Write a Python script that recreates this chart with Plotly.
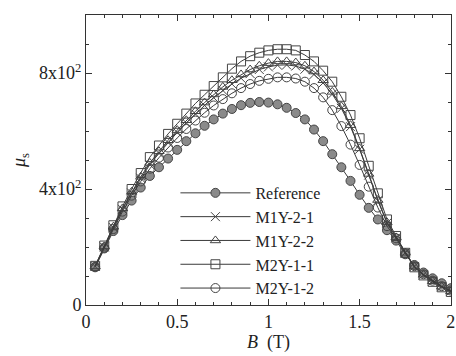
import plotly.graph_objects as go

B = [0.05, 0.10, 0.15, 0.20, 0.25, 0.30, 0.35, 0.40, 0.45, 0.50,
     0.55, 0.60, 0.65, 0.70, 0.75, 0.80, 0.85, 0.90, 0.95, 1.00,
     1.05, 1.10, 1.15, 1.20, 1.25, 1.30, 1.35, 1.40, 1.45, 1.50,
     1.55, 1.60, 1.65, 1.70, 1.75, 1.80, 1.85, 1.90, 1.95, 2.00]

reference = [130, 195, 255, 310, 360, 405, 445, 475, 505, 535,
             565, 592, 618, 640, 660, 676, 689, 697, 700, 698,
             692, 680, 662, 640, 605, 565, 520, 475, 428, 380,
             335, 295, 258, 222, 175, 138, 112, 92, 75, 58]

m1y_2_1 = [133, 200, 267, 330, 386, 437, 484, 523, 560, 595,
           628, 659, 688, 715, 740, 762, 782, 798, 812, 821,
           827, 828, 824, 813, 795, 766, 727, 678, 615, 537,
           448, 360, 283, 232, 180, 133, 104, 82, 63, 48]

m1y_2_2 = [133, 202, 270, 333, 390, 442, 490, 530, 568, 603,
           637, 668, 698, 726, 752, 775, 795, 812, 825, 834,
           840, 840, 836, 825, 805, 775, 735, 685, 620, 540,
           452, 362, 285, 233, 180, 132, 104, 82, 63, 47]

m2y_1_1 = [135, 205, 275, 340, 400, 455, 510, 550, 590, 625,
           660, 695, 725, 755, 785, 815, 840, 858, 870, 878,
           882, 882, 878, 862, 840, 808, 770, 718, 655, 575,
           480, 385, 295, 238, 180, 130, 102, 80, 61, 45]

m2y_1_2 = [132, 198, 262, 322, 377, 426, 470, 508, 543, 576,
           607, 636, 663, 688, 710, 730, 748, 762, 773, 780,
           785, 785, 781, 770, 748, 716, 672, 617, 553, 483,
           408, 336, 272, 230, 178, 134, 106, 84, 65, 50]

names = ["Reference", "M1Y-2-1", "M1Y-2-2", "M2Y-1-1", "M2Y-1-2"]
series = [reference, m1y_2_1, m1y_2_2, m2y_1_1, m2y_1_2]
symbols = ["circle", "x-thin-open", "triangle-up-open", "square-open", "circle-open"]

LINE = "#3a3a3a"
fig = go.Figure()
for name, ys, sym in zip(names, series, symbols):
    if name == "Reference":
        marker = dict(symbol=sym, size=9, color="#8a8a8a",
                      line=dict(color="#444444", width=1))
    else:
        marker = dict(symbol=sym, size=9, color="#444444",
                      line=dict(color="#444444", width=1))
    fig.add_trace(go.Scatter(x=B, y=ys, mode="lines+markers", name=name,
                             line=dict(color=LINE, width=1), marker=marker))

font = "Liberation Serif, Times New Roman, serif"
fig.update_layout(
    width=456, height=356,
    margin=dict(l=86, r=1, t=15, b=51),
    paper_bgcolor="white", plot_bgcolor="white",
    font=dict(family=font, size=18, color="#222222"),
    showlegend=True,
    legend=dict(x=0.245, y=0.445, xanchor="left", yanchor="top",
                bgcolor="rgba(0,0,0,0)", font=dict(size=16, family=font),
                itemwidth=70, tracegroupgap=0),
)
fig.update_xaxes(range=[0, 2.001], tickvals=[0, 0.5, 1, 1.5, 2],
                 ticktext=["0", "0.5", "1", "1.5", "2"],
                 ticklabeloverflow="allow",
                 ticks="inside", ticklen=6, tickcolor="#333", tickwidth=1,
                 minor=dict(dtick=0.1, ticks="inside", ticklen=3, tickcolor="#333"),
                 showline=True, linecolor="#333", linewidth=1, mirror="ticks",
                 showgrid=False, zeroline=False,
                 title=dict(text="<i>B</i>  (T)", standoff=4, font=dict(size=18)))
fig.update_yaxes(range=[0, 1000], tickvals=[0, 400, 800],
                 ticktext=["0", "4x10<sup>2</sup>", "8x10<sup>2</sup>"],
                 ticks="inside", ticklen=6, tickcolor="#333", tickwidth=1,
                 minor=dict(dtick=100, ticks="inside", ticklen=3, tickcolor="#333"),
                 showline=True, linecolor="#333", linewidth=1, mirror="ticks",
                 showgrid=False, zeroline=False,
                 title=dict(text="<i>μ</i><sub>s</sub>", standoff=8, font=dict(size=18)))

fig.write_html("out.html")
